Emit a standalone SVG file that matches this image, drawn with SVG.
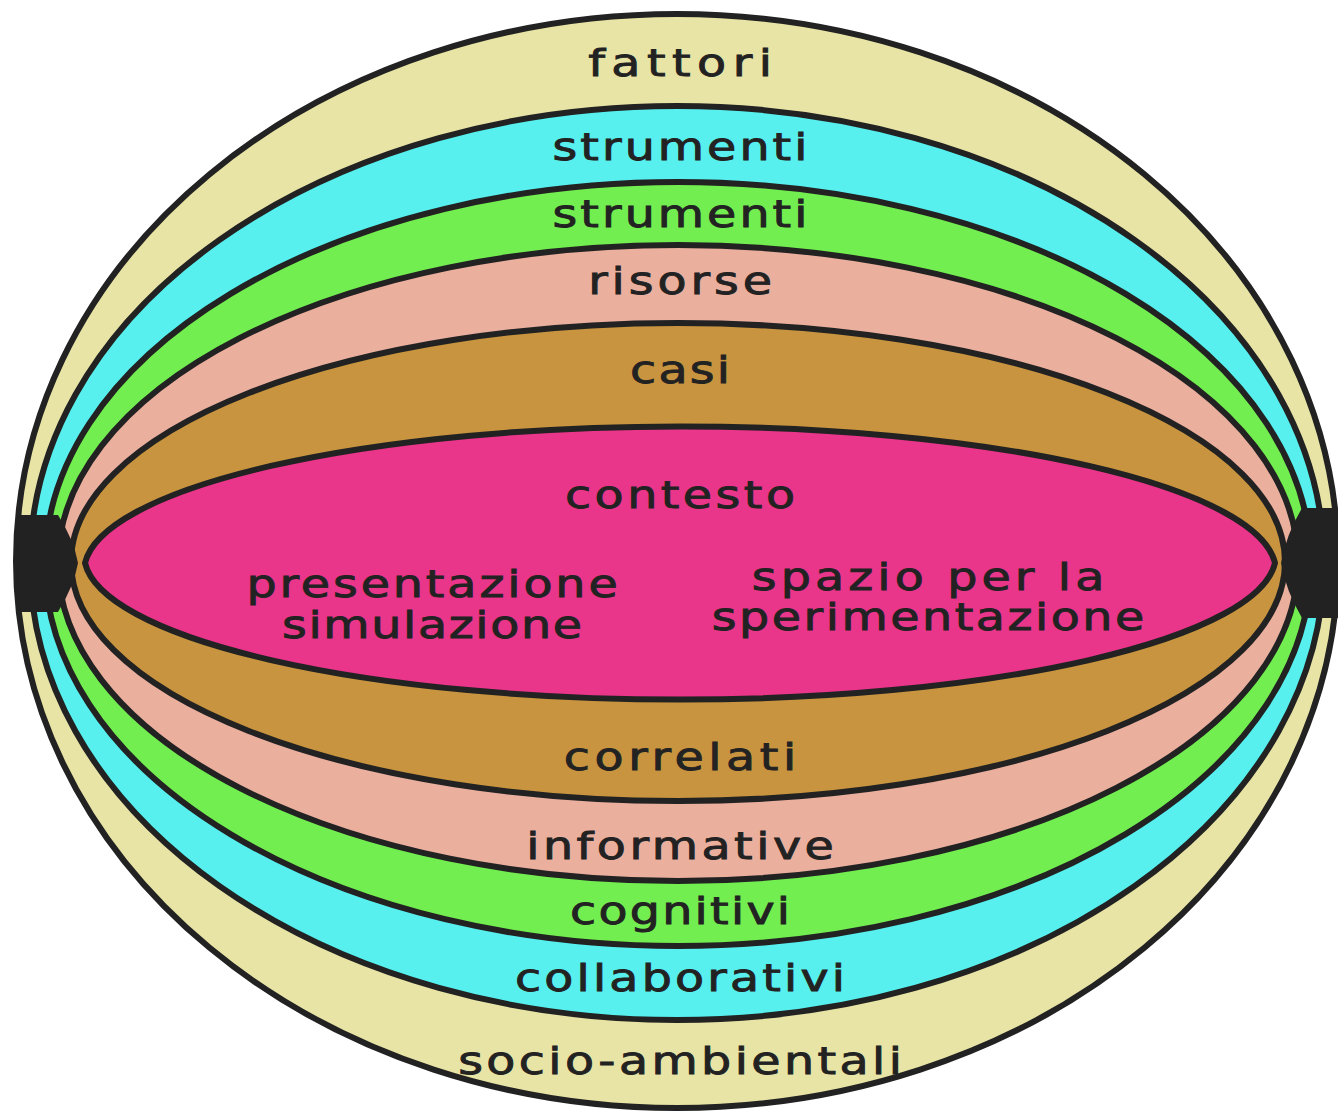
<svg xmlns="http://www.w3.org/2000/svg" width="1338" height="1114" viewBox="0 0 1338 1114">
<style>
.ring{stroke:#222;stroke-width:6}
.lbl{font-family:"DejaVu Sans","Liberation Sans",sans-serif;font-size:38px;fill:#222;stroke:#222;stroke-width:0.9;text-anchor:middle}
</style>
<rect width="1338" height="1114" fill="#fff"/>
<g id="layer-fattori">
<ellipse class="ring" cx="677" cy="561" rx="661" ry="547" fill="#E8E4A5"/>
<text class="lbl" transform="translate(680 76) scale(1.25 1)" textLength="147" lengthAdjust="spacing">fattori</text>
<text class="lbl" transform="translate(680 1074) scale(1.25 1)" textLength="355" lengthAdjust="spacing">socio-ambientali</text>
</g>
<g id="layer-strumenti-1">
<ellipse class="ring" cx="677" cy="563" rx="647" ry="457" fill="#57F0EE"/>
<text class="lbl" transform="translate(680 160) scale(1.25 1)" textLength="204" lengthAdjust="spacing">strumenti</text>
<text class="lbl" transform="translate(680 991) scale(1.25 1)" textLength="264" lengthAdjust="spacing">collaborativi</text>
</g>
<g id="layer-strumenti-2">
<ellipse class="ring" cx="678" cy="564" rx="633" ry="382" fill="#73EE50"/>
<text class="lbl" transform="translate(680 227) scale(1.25 1)" textLength="204" lengthAdjust="spacing">strumenti</text>
<text class="lbl" transform="translate(680 924) scale(1.25 1)" textLength="176" lengthAdjust="spacing">cognitivi</text>
</g>
<g id="layer-risorse">
<ellipse class="ring" cx="678" cy="563" rx="620" ry="318" fill="#EBAF9E"/>
<text class="lbl" transform="translate(680 294) scale(1.25 1)" textLength="147" lengthAdjust="spacing">risorse</text>
<text class="lbl" transform="translate(680 859) scale(1.25 1)" textLength="246" lengthAdjust="spacing">informative</text>
</g>
<g id="layer-casi">
<ellipse class="ring" cx="678" cy="562" rx="607" ry="239" fill="#C8943F"/>
<text class="lbl" transform="translate(680 383) scale(1.25 1)" textLength="80" lengthAdjust="spacing">casi</text>
<text class="lbl" transform="translate(680 770) scale(1.25 1)" textLength="186" lengthAdjust="spacing">correlati</text>
</g>
<g id="layer-contesto">
<path class="ring" fill="#E9358A" d="M85 563 A596 145 0 0 1 1275 563 A596 145 0 0 1 85 563 Z"/>
<text class="lbl" transform="translate(680 508) scale(1.25 1)" textLength="184" lengthAdjust="spacing">contesto</text>
<text class="lbl" transform="translate(432 597) scale(1.25 1)" textLength="297" lengthAdjust="spacing">presentazione</text>
<text class="lbl" transform="translate(432 638) scale(1.25 1)" textLength="240" lengthAdjust="spacing">simulazione</text>
<text class="lbl" transform="translate(928 590) scale(1.25 1)" textLength="282" lengthAdjust="spacing">spazio per la</text>
<text class="lbl" transform="translate(928 630) scale(1.25 1)" textLength="346" lengthAdjust="spacing">sperimentazione</text>
</g>
<g id="tips" fill="#222">
<path d="M18 515 L58 515 Q74 540 78 563 Q74 586 58 612 L18 612 Q14 563 18 515 Z"/>
<path d="M1338 508 L1302 508 Q1286 535 1281 563 Q1286 591 1302 618 L1338 618 Z"/>
</g>
</svg>
